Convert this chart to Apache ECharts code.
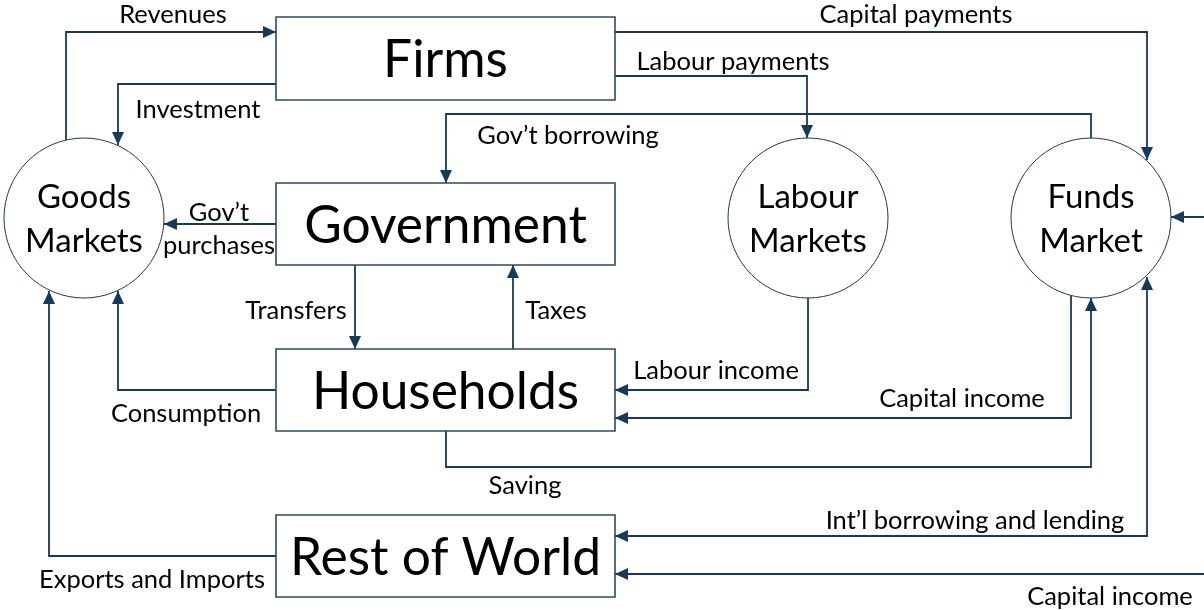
<!DOCTYPE html>
<html>
<head>
<meta charset="utf-8">
<script src="https://cdn.jsdelivr.net/npm/echarts@6/dist/echarts.min.js"></script>
<style>
html, body { margin: 0; background: #fff; }
#container { width: 1204px; height: 610px; }
</style>
</head>
<body>
<div id="container"></div>
<script>
var dom = document.getElementById("container");
var myChart = echarts.init(dom);

// sectors drawn as boxes (x1, y1, x2, y2 in diagram units)
var boxNames = ['Firms', 'Government', 'Households', 'Rest of World'];
var boxLeft = [276, 276, 276, 276];
var boxRight = [615, 615, 615, 615];
var boxTop = [17, 183, 349, 515];
var boxBottom = [100, 265, 431, 597];

// markets drawn as circles
var marketNames = ['Goods\nMarkets', 'Labour\nMarkets', 'Funds\nMarket'];
var marketX = [84, 808, 1091];
var marketY = [218, 218, 218];
var marketR = [80, 80, 80];

// flows: path points, which end gets an arrow, label text + its centre
var flowNames = ['Revenues', 'Investment', 'Capital payments', 'Labour payments',
    'Gov\u2019t borrowing', 'Gov\u2019t\npurchases', 'Transfers', 'Taxes', 'Consumption',
    'Labour income', 'Capital income', 'Saving', 'Int\u2019l borrowing and lending',
    'Exports and Imports', 'Capital income', ''];
var flowPaths = [
    [[66, 140], [66, 32], [276, 32]],
    [[276, 84], [118, 84], [118, 145]],
    [[615, 32], [1147, 32], [1147, 160]],
    [[615, 76], [807, 76], [807, 138]],
    [[1091, 138], [1091, 114], [446, 114], [446, 183]],
    [[276, 224], [164, 224]],
    [[355, 265], [355, 349]],
    [[513, 349], [513, 265]],
    [[276, 390], [118, 390], [118, 291]],
    [[808, 298], [808, 390], [615, 390]],
    [[1071, 296], [1071, 418], [615, 418]],
    [[446, 431], [446, 467], [1091, 467], [1091, 298]],
    [[1147, 277], [1147, 536], [615, 536]],
    [[276, 556], [49, 556], [49, 291]],
    [[1204, 574], [615, 574]],
    [[1204, 217], [1171, 217]]
];
var flowArrows = ['end', 'end', 'end', 'end', 'end', 'end', 'end', 'end', 'end',
    'end', 'end', 'end', 'both', 'end', 'end', 'end'];
var flowLabelX = [173, 198, 916, 733, 568, 219, 296, 556, 186, 716, 962, 525, 975, 152, 1110, 0];
var flowLabelY = [15, 110, 15, 62, 136, 229, 311, 311, 414, 371, 399, 486, 521, 580, 597, 0];

var lineColor = '#173a5a';
var textFont = 'Lato, "Open Sans", sans-serif';

function arrowHead(api, tip, from) {
    var p = api.coord(tip), q = api.coord(from);
    var dx = p[0] - q[0], dy = p[1] - q[1];
    var len = Math.sqrt(dx * dx + dy * dy) || 1;
    var ux = dx / len, uy = dy / len;
    var l = 13, w = 6;
    return {
        type: 'polygon',
        shape: { points: [p, [p[0] - ux * l - uy * w, p[1] - uy * l + ux * w], [p[0] - ux * l + uy * w, p[1] - uy * l - ux * w]] },
        style: { fill: lineColor }
    };
}

function renderBox(params, api) {
    var i = params.dataIndex;
    var a = api.coord([boxLeft[i], boxTop[i]]);
    var b = api.coord([boxRight[i], boxBottom[i]]);
    return {
        type: 'group',
        children: [{
            type: 'rect',
            shape: { x: a[0], y: a[1], width: b[0] - a[0], height: b[1] - a[1] },
            style: { fill: '#fff', stroke: '#2e4a63', lineWidth: 1.6 }
        }, {
            type: 'text',
            style: {
                text: boxNames[i], x: (a[0] + b[0]) / 2, y: (a[1] + b[1]) / 2 + 2,
                align: 'center', verticalAlign: 'middle',
                font: '51.5px ' + textFont, fill: '#000'
            }
        }]
    };
}

function renderMarket(params, api) {
    var i = params.dataIndex;
    var c = api.coord([marketX[i], marketY[i]]);
    var e = api.coord([marketX[i] + marketR[i], marketY[i]]);
    return {
        type: 'group',
        children: [{
            type: 'circle',
            shape: { cx: c[0], cy: c[1], r: e[0] - c[0] },
            style: { fill: '#fff', stroke: '#1f3850', lineWidth: 1 }
        }, {
            type: 'text',
            style: {
                text: marketNames[i], x: c[0], y: c[1] + 1, lineHeight: 44,
                align: 'center', verticalAlign: 'middle',
                font: '33px ' + textFont, fill: '#000'
            }
        }]
    };
}

function renderFlow(params, api) {
    var i = params.dataIndex;
    var path = flowPaths[i];
    var pts = path.map(function (p) { return api.coord(p); });
    var children = [{
        type: 'polyline',
        shape: { points: pts },
        style: { fill: null, stroke: lineColor, lineWidth: 1.8 }
    }];
    var n = path.length;
    children.push(arrowHead(api, path[n - 1], path[n - 2]));
    if (flowArrows[i] === 'both') {
        children.push(arrowHead(api, path[0], path[1]));
    }
    if (flowNames[i]) {
        var t = api.coord([flowLabelX[i], flowLabelY[i]]);
        children.push({
            type: 'text',
            style: {
                text: flowNames[i], x: t[0], y: t[1], lineHeight: 33,
                align: 'center', verticalAlign: 'middle',
                font: '25.5px ' + textFont, fill: '#000'
            }
        });
    }
    return { type: 'group', children: children };
}

var option = {
    animation: false,
    backgroundColor: '#fff',
    grid: { left: 0, right: 0, top: 0, bottom: 0 },
    xAxis: { type: 'value', min: 0, max: 1204, show: false },
    yAxis: { type: 'value', min: 0, max: 610, inverse: true, show: false },
    series: [{
        type: 'custom',
        name: 'flows',
        renderItem: renderFlow,
        data: flowPaths.map(function (p) { return p[0]; }),
        z: 1
    }, {
        type: 'custom',
        name: 'sectors',
        renderItem: renderBox,
        data: boxNames.map(function (n, i) { return [boxLeft[i], boxTop[i]]; }),
        z: 2
    }, {
        type: 'custom',
        name: 'markets',
        renderItem: renderMarket,
        data: marketNames.map(function (n, i) { return [marketX[i], marketY[i]]; }),
        z: 2
    }]
};

if (option && typeof option === "object") {
    myChart.setOption(option, true);
}
</script>
</body>
</html>
